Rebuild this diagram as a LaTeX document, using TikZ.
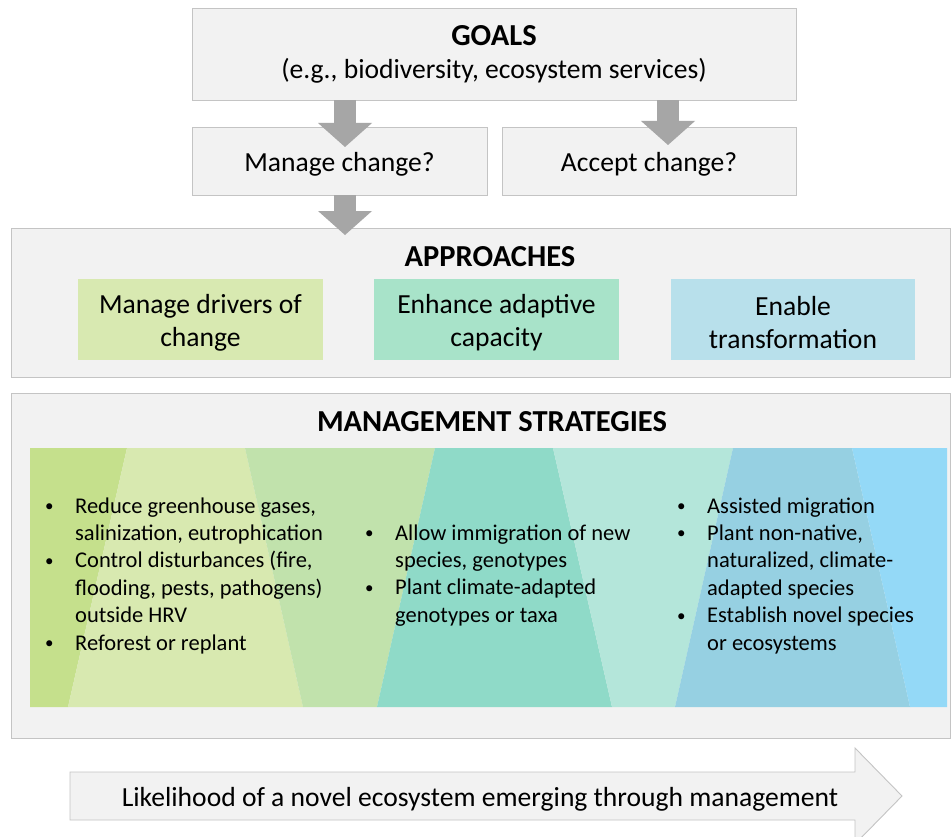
\documentclass[tikz,border=0pt]{standalone}
\usepackage{fontspec}
\setmainfont{Carlito}
\usetikzlibrary{arrows.meta,calc}
\definecolor{boxfill}{HTML}{F2F2F2}
\definecolor{boxline}{HTML}{C4C4C4}
\definecolor{arrowgray}{HTML}{A6A6A6}
\definecolor{apgreen}{HTML}{D8E9B1}
\definecolor{apteal}{HTML}{A8E3C9}
\definecolor{apblue}{HTML}{B8E0EB}
\definecolor{sgA}{HTML}{C5E08C}
\definecolor{sgB}{HTML}{D8E9B0}
\definecolor{sgC}{HTML}{C1E2AC}
\definecolor{stA}{HTML}{8FDAC8}
\definecolor{stB}{HTML}{B4E6DA}
\definecolor{sbA}{HTML}{96D0E2}
\definecolor{sbB}{HTML}{94D9F7}
\newcommand{\bigfont}{\fontsize{27.6pt}{33.2pt}\selectfont}
\newcommand{\titlefont}{\fontsize{30.5pt}{36pt}\selectfont\bfseries}
\newcommand{\smfont}{\fontsize{22.5pt}{27.4pt}\selectfont}
\newcommand{\bulletmark}{{\fontsize{17pt}{17pt}\selectfont\raisebox{1.5pt}{\textbullet}}}
\newcommand{\bitem}[1]{\par\hangindent=30pt\hangafter=1\noindent\makebox[30pt][l]{\bulletmark}#1\par}
\newcommand{\bcolumn}[1]{\parbox[t]{330pt}{\smfont\parindent=0pt\parskip=0pt #1}}
\newcommand{\topstrut}[1]{\rule{0pt}{#1}}
\begin{document}
\begin{tikzpicture}[x=1pt,y=-1pt,
  box/.style={draw=boxline, fill=boxfill, line width=0.9pt, inner sep=0pt, align=center, font=\bigfont},
  apbox/.style={draw=none, inner sep=0pt, align=center, font=\bigfont, minimum width=245pt, minimum height=81pt},
  blockarr/.style={arrowgray, line width=22pt, -{Triangle[width=54pt,length=24pt,line width=0pt]}},
  txt/.style={inner sep=0pt, font=\bigfont},
  bcol/.style={inner sep=0pt, anchor=base west}]
\useasboundingbox (0,0) rectangle (952,837);
\fill[white] (0,0) rectangle (952,837);
% top boxes
\node[box, minimum width=604pt, minimum height=92pt] (goals) at (494,54) {{\titlefont GOALS}\\(e.g., biodiversity, ecosystem services)};
\node[box, minimum width=295pt, minimum height=68pt] (manage) at (339.5,161) {\topstrut{25pt}Manage change?};
\node[box, minimum width=294pt, minimum height=68pt] (accept) at (649,161) {\topstrut{25pt}Accept change?};
% approaches
\node[box, minimum width=939pt, minimum height=149pt] (appr) at (480.5,302.5) {};
\node[inner sep=0pt, anchor=base, font=\titlefont] (apprtitle) at (490,266) {APPROACHES};
\node[apbox, fill=apgreen] (drivers) at (200.5,319.5) {\topstrut{25pt}Manage drivers of\\change};
\node[apbox, fill=apteal] (adaptive) at (496.5,319.5) {\topstrut{25pt}Enhance adaptive\\capacity};
\node[apbox, fill=apblue, minimum width=244pt] (transform) at (793,319.5) {\topstrut{25pt}Enable\\transformation};
% management strategies
\node[box, minimum width=939pt, minimum height=345pt] (mgmt) at (480.5,565.5) {};
\node[inner sep=0pt, anchor=base, font=\titlefont] (mgmttitle) at (492,431) {MANAGEMENT STRATEGIES};
\fill[sgA] (30,448) -- (127,448) -- (68,707) -- (30,707) -- cycle;
\fill[sgB] (127,448) -- (245,448) -- (303,707) -- (68,707) -- cycle;
\fill[sgC] (245,448) -- (435,448) -- (377,707) -- (303,707) -- cycle;
\fill[stA] (435,448) -- (553,448) -- (612,707) -- (377,707) -- cycle;
\fill[stB] (553,448) -- (733,448) -- (675,707) -- (612,707) -- cycle;
\fill[sbA] (733,448) -- (852,448) -- (910,707) -- (675,707) -- cycle;
\fill[sbB] (852,448) -- (947,448) -- (947,707) -- (910,707) -- cycle;
\node[bcol] (col1) at (45,513) {\bcolumn{\bitem{Reduce greenhouse gases,\newline salinization, eutrophication}\bitem{Control disturbances (fire,\newline flooding, pests, pathogens)\newline outside HRV}\bitem{Reforest or replant}}};
\node[bcol] (col2) at (365,540) {\bcolumn{\bitem{Allow immigration of new\newline species, genotypes}\bitem{Plant climate-adapted\newline genotypes or taxa}}};
\node[bcol] (col3) at (677,513) {\bcolumn{\bitem{Assisted migration}\bitem{Plant non-native,\newline naturalized, climate-\newline adapted species}\bitem{Establish novel species\newline or ecosystems}}};
% block arrows
\coordinate (t1) at (345,147);
\coordinate (t2) at (668,145);
\coordinate (t3) at (345,235);
\draw[blockarr] (goals.south -| t1) -- (t1);
\draw[blockarr] (goals.south -| t2) -- (t2);
\draw[blockarr] (manage.south -| t3) -- (t3);
% bottom arrow
\draw[draw=boxline, fill=boxfill, line width=0.9pt] (70,772) -- (855,772) -- (855,748) -- (902,796) -- (855,844) -- (855,820) -- (70,820) -- cycle;
\node[txt, anchor=base] (likely) at (480,806) {Likelihood of a novel ecosystem emerging through management};
\end{tikzpicture}
\end{document}
